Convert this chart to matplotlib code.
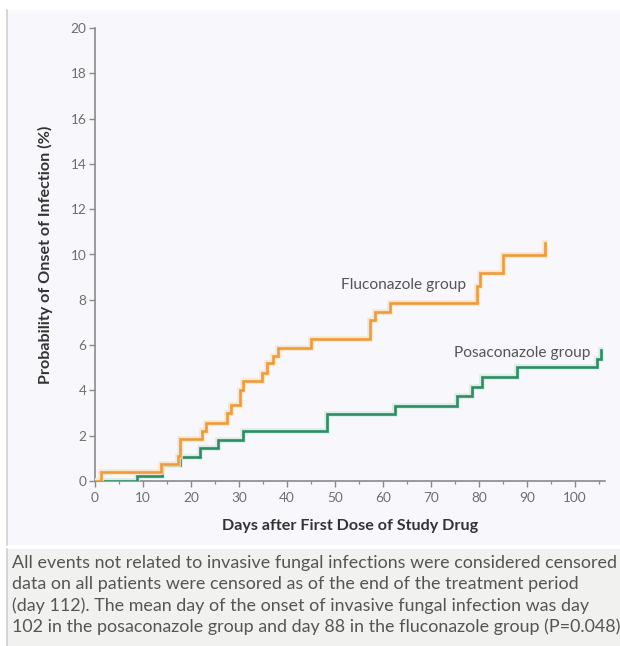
import matplotlib
matplotlib.use("Agg")
import matplotlib.pyplot as plt
import matplotlib.patheffects as pe
from matplotlib.patches import Rectangle
from matplotlib.lines import Line2D

# ---- data ----
fluconazole_days = [0, 1.2, 13.7, 17.3, 17.8, 22.2, 23.2, 27.4, 28.4, 30.2, 30.9, 34.7, 35.8, 37.1, 38.2, 45.1, 57.3, 58.3, 61.5, 79.5, 80.2, 85.0, 93.7]
fluconazole_pct = [0, 0.38, 0.74, 1.1, 1.84, 2.2, 2.56, 3.0, 3.35, 4.0, 4.42, 4.77, 5.2, 5.5, 5.88, 6.26, 7.1, 7.47, 7.88, 8.6, 9.18, 9.98, 10.5]

posaconazole_days = [0, 8.7, 13.9, 17.7, 21.9, 25.7, 30.9, 48.3, 62.5, 75.4, 78.5, 80.6, 87.9, 104.5, 105.5]
posaconazole_pct = [0, 0.22, 0.7, 1.07, 1.44, 1.81, 2.2, 2.94, 3.32, 3.77, 4.16, 4.6, 5.02, 5.4, 5.8]

x_ticks = [0, 10, 20, 30, 40, 50, 60, 70, 80, 90, 100]
y_ticks = [0, 2, 4, 6, 8, 10, 12, 14, 16, 18, 20]

series_labels = ["Fluconazole group", "Posaconazole group"]
x_label = "Days after First Dose of Study Drug"
y_label = "Probability of Onset of Infection (%)"
caption_lines = [
    "All events not related to invasive fungal infections were considered censored",
    "data on all patients were censored as of the end of the treatment period",
    "(day 112). The mean day of the onset of invasive fungal infection was day",
    "102 in the posaconazole group and day 88 in the fluconazole group (P=0.048)",
]

plt.rcParams['font.family'] = ['Lato', 'DejaVu Sans']

W, H = 620, 646
fig = plt.figure(figsize=(W / 100, H / 100), dpi=100)
fig.patch.set_facecolor('white')

def fx(px):
    return px / W

def fy(py):
    return 1 - py / H

# background panels
fig.add_artist(Rectangle((fx(7), fy(545)), fx(613), (545 - 10) / H, transform=fig.transFigure,
                         facecolor='#F8F8FC', edgecolor='none', zorder=-10))
fig.add_artist(Line2D([fx(7), fx(7)], [fy(10), fy(545)], transform=fig.transFigure,
                      color='#CFCFD2', lw=1.2, zorder=-9))
fig.add_artist(Rectangle((fx(7), fy(646)), fx(613), (646 - 549) / H, transform=fig.transFigure,
                         facecolor='#F1F1EF', edgecolor='none', zorder=-10))
fig.add_artist(Line2D([fx(7), fx(7)], [fy(549), fy(646)], transform=fig.transFigure,
                      color='#CFCFD2', lw=1.2, zorder=-9))

ax_left, ax_right, ax_top, ax_bottom = 95, 605, 28, 481
ax = fig.add_axes([fx(ax_left), fy(ax_bottom), (ax_right - ax_left) / W, (ax_bottom - ax_top) / H])
ax.set_facecolor('none')

orange = '#EE9B3A'
green = '#2E8C66'

ax.plot(posaconazole_days, posaconazole_pct, drawstyle='steps-post', color=green, lw=1.9,
        solid_joinstyle='miter', zorder=3,
        path_effects=[pe.Stroke(linewidth=4.0, foreground='#D8EEE5'), pe.Normal()])
ax.plot(fluconazole_days, fluconazole_pct, drawstyle='steps-post', color=orange, lw=1.9,
        solid_joinstyle='miter', zorder=4,
        path_effects=[pe.Stroke(linewidth=4.0, foreground='#FBE6CC'), pe.Normal()])

ax.text(64.2, 8.65, series_labels[0], ha='center', va='center', fontsize=11.2, color='#555555')
ax.text(89.0, 5.65, series_labels[1], ha='center', va='center', fontsize=11.2, color='#555555')

ax.set_xlim(0, 106.25)
ax.set_ylim(0, 20)
ax.set_xticks(x_ticks)
ax.set_xticks([5 + 10 * i for i in range(11)], minor=True)
ax.set_yticks(y_ticks)
ax.set_xticklabels([str(v) for v in x_ticks])
ax.set_yticklabels([str(v) for v in y_ticks])

for s in ['top', 'right']:
    ax.spines[s].set_visible(False)
for s in ['left', 'bottom']:
    ax.spines[s].set_color('#8A8A8A')
    ax.spines[s].set_linewidth(1.2)

ax.tick_params(axis='both', which='major', direction='out', length=4, width=1.0,
               color='#8A8A8A', labelcolor='#6E6E6E', labelsize=9.8, pad=2)
ax.tick_params(axis='x', which='major', pad=4)
ax.tick_params(axis='x', which='minor', direction='out', length=2.5, width=0.9, color='#8A8A8A')

ax.set_xlabel(x_label, fontsize=11.6, color='#333333', fontweight='bold', labelpad=11)
ax.set_ylabel(y_label, fontsize=11.6, color='#333333', fontweight='bold', labelpad=13)

y0 = 563
for i, line in enumerate(caption_lines):
    fig.text(fx(12), fy(y0 + i * 21.4), line, ha='left', va='center', fontsize=12.9, color='#555555')

fig.savefig('out.png', dpi=100)
